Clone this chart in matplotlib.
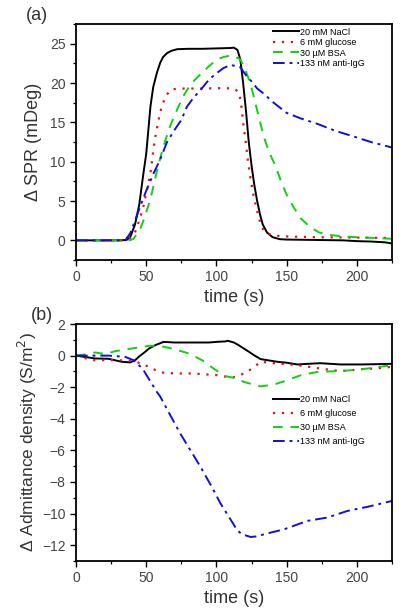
import matplotlib
matplotlib.use("Agg")
import matplotlib.pyplot as plt
from matplotlib.ticker import MultipleLocator

plt.rcParams['font.family'] = ['Liberation Sans', 'DejaVu Sans']

labels = ["20 mM NaCl", "6 mM glucose", "30 \u00b5M BSA", "133 nM anti-IgG"]

# ---- panel (a): SPR ----
t_a_nacl = [0, 10, 20, 30, 36, 38.6, 42, 45, 48, 50, 52, 53, 55, 57.6, 60, 62, 64.8, 68, 72, 80,
            90, 100, 110, 112.4, 115, 117, 119, 121, 123, 125, 127, 129, 131, 133, 136, 140, 145,
            150, 170, 190, 200, 210, 220, 225]
v_a_nacl = [0, 0, 0, 0, 0.05, 0.4, 2.0, 4.5, 8.5, 11, 15, 17, 19.5, 21.3, 22.6, 23.3, 23.8, 24.1,
            24.3, 24.35, 24.35, 24.4, 24.45, 24.5, 24.2, 23.0, 20.0, 16.5, 12.5, 9.5, 7.0, 5.0, 3.3,
            2.0, 1.0, 0.4, 0.15, 0.1, 0.05, 0, -0.1, -0.15, -0.25, -0.4]

t_a_glu = [0, 20, 35, 38, 42, 45, 48, 50, 53, 56, 59, 61, 64, 68, 75, 90, 105, 112, 114, 116,
           117.5, 119, 120.7, 122.5, 124, 126, 128, 130, 132, 134, 137, 142, 148, 170, 200, 225]
v_a_glu = [0, 0, 0, 0.2, 1.0, 2.5, 4.3, 6.0, 8.5, 12.7, 15.5, 17.0, 18.4, 19.2, 19.3, 19.3, 19.35,
           19.3, 19.1, 18.8, 17.5, 15.0, 12.7, 10.0, 8.2, 6.0, 4.5, 3.0, 1.8, 1.2, 0.8, 0.6, 0.5,
           0.4, 0.35, 0.3]

t_a_bsa = [0, 20, 38, 41, 43.3, 46, 48, 51.7, 54, 57.6, 60.5, 63.6, 67, 70, 73, 76, 79, 84, 89.8,
           95, 100.5, 105, 110, 114, 117, 121, 124, 127, 130, 134, 138, 142, 146, 150, 155, 160,
           166, 173, 180, 190, 200, 212, 225]
v_a_bsa = [0, 0, 0, 0.2, 0.8, 1.6, 2.5, 4.5, 6.0, 8.8, 10.8, 12.7, 14.5, 15.8, 17.0, 18.2, 19.1,
           20.3, 21.3, 22.2, 23.0, 23.3, 23.5, 23.3, 23.0, 21.5, 20.0, 18.0, 15.8, 13.0, 11.0, 9.5,
           7.5, 5.8, 4.2, 2.8, 1.8, 1.0, 0.7, 0.5, 0.4, 0.3, 0.2]

t_a_igg = [0, 20, 35, 38.6, 42, 45.7, 50, 55.2, 60, 64.8, 70, 75, 79, 84, 88.6, 95, 100.5, 105,
           110, 115, 117, 121, 125, 129, 134, 140, 150, 160, 172, 185, 196, 210, 225]
v_a_igg = [0, 0, 0, 0.9, 2.5, 4.3, 6.3, 8.5, 10.3, 12.5, 14.0, 15.3, 17.0, 18.2, 19.1, 20.5, 21.3,
           21.9, 22.3, 22.1, 22.0, 21.0, 20.2, 19.3, 18.6, 17.6, 16.2, 15.5, 14.8, 13.9, 13.3, 12.5,
           11.8]

# ---- panel (b): admittance density ----
t_b_nacl = [0, 13.6, 23, 32.6, 38.6, 42, 45, 49, 52, 56.4, 62.4, 70, 80, 94.5, 100, 106.4, 108,
            112.4, 116, 119.5, 123, 126.7, 131.4, 137, 143.3, 150, 157.6, 165, 174, 188.6, 203,
            215, 225]
v_b_nacl = [0, -0.18, -0.2, -0.39, -0.43, -0.3, -0.05, 0.22, 0.45, 0.66, 0.87, 0.83, 0.83, 0.83,
            0.87, 0.9, 0.94, 0.83, 0.65, 0.45, 0.25, 0.03, -0.22, -0.3, -0.39, -0.45, -0.56, -0.52,
            -0.48, -0.56, -0.56, -0.54, -0.52]

t_b_glu = [0, 11.7, 28, 40, 47, 54, 61, 70, 82.6, 94.5, 100.5, 107.6, 112, 117, 121, 125.5, 131.4,
           143.3, 157.6, 174, 188.6, 203, 215, 225]
v_b_glu = [0, -0.29, -0.28, -0.35, -0.5, -0.82, -1.07, -1.13, -1.13, -1.2, -1.24, -1.35, -1.37,
           -1.24, -1.05, -0.82, -0.39, -0.5, -0.6, -0.82, -0.99, -0.86, -0.8, -0.71]

t_b_bsa = [0, 8.8, 13.6, 20.7, 27.9, 39.8, 51.7, 58.8, 68.3, 80.2, 89.8, 99.3, 106.4, 112, 119.5,
           125, 131.4, 141, 150.5, 160, 172, 183.8, 195.7, 207.6, 225]
v_b_bsa = [0, 0.1, 0.2, 0.1, 0.28, 0.45, 0.62, 0.62, 0.45, 0.14, -0.29, -0.9, -1.3, -1.4, -1.66,
           -1.8, -1.95, -1.83, -1.56, -1.24, -1.03, -0.99, -0.93, -0.82, -0.6]

t_b_igg = [0, 23, 35, 41, 47.4, 51.7, 57.6, 60, 74, 88.6, 96, 102.9, 114.8, 118, 124.3, 128, 136,
           148, 164.8, 179, 193.3, 207.6, 225]
v_b_igg = [0, 0.0, -0.08, -0.29, -0.82, -1.45, -2.3, -2.6, -4.9, -7.03, -8.2, -9.36, -11.05, -11.3,
           -11.48, -11.45, -11.26, -11.0, -10.46, -10.25, -9.83, -9.57, -9.2]

styles = [dict(color='black', ls='-', lw=1.4),
          dict(color='#e81010', ls=(0, (1, 3)), lw=1.6),
          dict(color='#10d010', ls=(0, (5, 4)), lw=1.4),
          dict(color='#1010d8', ls=(0, (6, 2.5, 1.5, 2.5)), lw=1.4)]

fig = plt.figure(figsize=(4.0, 6.16), dpi=100)
ax1 = fig.add_axes([0.19, 0.5779, 0.79, 0.3831])
ax2 = fig.add_axes([0.19, 0.0893, 0.79, 0.3847])

series_a = [(t_a_nacl, v_a_nacl), (t_a_glu, v_a_glu), (t_a_bsa, v_a_bsa), (t_a_igg, v_a_igg)]
series_b = [(t_b_nacl, v_b_nacl), (t_b_glu, v_b_glu), (t_b_bsa, v_b_bsa), (t_b_igg, v_b_igg)]

for (t, v), st, lab in zip(series_a, styles, labels):
    ax1.plot(t, v, label=lab, **st)
for (t, v), st, lab in zip(series_b, styles, labels):
    ax2.plot(t, v, label=lab, **st)

tick_col = '#444444'
lab_col = '#333333'
for ax in (ax1, ax2):
    ax.set_xlim(0, 225)
    ax.xaxis.set_major_locator(MultipleLocator(50))
    ax.xaxis.set_minor_locator(MultipleLocator(25))
    ax.tick_params(which='major', direction='out', length=4, width=1.0, labelsize=10,
                   labelcolor=tick_col, top=False, right=False)
    ax.tick_params(which='minor', direction='out', length=2, width=0.9, top=False, right=False)
    for s in ax.spines.values():
        s.set_linewidth(1.3)
    ax.set_xlabel('time (s)', fontsize=13, color=lab_col, labelpad=3)

ax1.set_ylim(-2.5, 27.5)
ax1.yaxis.set_major_locator(MultipleLocator(5))
ax1.yaxis.set_minor_locator(MultipleLocator(2.5))
ax1.set_ylabel('\u0394 SPR (mDeg)', fontsize=13, color=lab_col, labelpad=6)

ax2.set_ylim(-13, 2)
ax2.yaxis.set_major_locator(MultipleLocator(2))
ax2.yaxis.set_minor_locator(MultipleLocator(1))
ax2.set_ylabel('\u0394 Admittance density (S/m$^2$)', fontsize=12.5, color=lab_col, labelpad=2)

ax1.legend(loc='upper left', bbox_to_anchor=(0.622, 0.985), frameon=False, fontsize=6.5,
           handlelength=2.9, handletextpad=0.15, labelspacing=0.17, borderpad=0,
           borderaxespad=0)
ax2.legend(loc='upper left', bbox_to_anchor=(0.622, 0.70), frameon=False, fontsize=6.5,
           handlelength=2.9, handletextpad=0.15, labelspacing=0.55, borderpad=0,
           borderaxespad=0)

fig.text(37 / 400, 1 - 15 / 616, '(a)', fontsize=13, color=lab_col, ha='center', va='center')
fig.text(42 / 400, 1 - 316 / 616, '(b)', fontsize=13, color=lab_col, ha='center', va='center')

fig.savefig('out.png', dpi=100)
